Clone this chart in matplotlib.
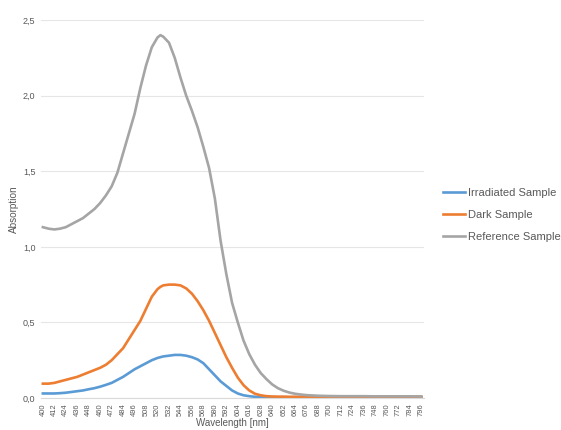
import matplotlib
matplotlib.use('Agg')

import matplotlib.pyplot as plt
import numpy as np

# wavelengths (nm), 6 nm steps over the band (+ a few around the peak), 12 nm in the flat tail
wavelength = (list(range(400, 520, 6)) + [520, 523, 526] + list(range(532, 701, 6))
              + list(range(712, 797, 12)))

# values
reference = [1.13, 1.12, 1.115, 1.12, 1.13, 1.15, 1.17, 1.19, 1.22, 1.25,
             1.29, 1.34, 1.40, 1.49, 1.62, 1.75, 1.88, 2.05, 2.20, 2.32,
             2.385, 2.40, 2.39, 2.35, 2.25, 2.12, 2.00, 1.90, 1.79, 1.66, 1.52,
             1.32, 1.04, 0.82, 0.63, 0.50, 0.38, 0.29, 0.22, 0.165, 0.125,
             0.09, 0.065, 0.048, 0.036, 0.028, 0.023, 0.019, 0.017, 0.015, 0.014,
             0.013,
             0.012, 0.012, 0.012, 0.011, 0.011, 0.011, 0.011, 0.010]
dark = [0.095, 0.095, 0.10, 0.11, 0.12, 0.13, 0.14, 0.155, 0.17, 0.185,
        0.20, 0.22, 0.25, 0.29, 0.33, 0.39, 0.45, 0.51, 0.59, 0.67,
        0.72, 0.735, 0.745, 0.75, 0.75, 0.745, 0.725, 0.69, 0.64, 0.58, 0.51,
        0.43, 0.35, 0.27, 0.20, 0.135, 0.085, 0.05, 0.028, 0.018, 0.012,
        0.010, 0.009, 0.009, 0.008, 0.008, 0.008, 0.008, 0.008, 0.008, 0.008,
        0.008,
        0.008, 0.008, 0.008, 0.008, 0.008, 0.008, 0.008, 0.008]
irradiated = [0.03, 0.03, 0.03, 0.032, 0.035, 0.04, 0.045, 0.05, 0.058, 0.065,
              0.075, 0.087, 0.10, 0.12, 0.14, 0.165, 0.19, 0.21, 0.23, 0.25,
              0.265, 0.27, 0.275, 0.28, 0.285, 0.285, 0.28, 0.27, 0.255, 0.23, 0.19,
              0.15, 0.11, 0.08, 0.05, 0.03, 0.018, 0.012, 0.008, 0.006, 0.005,
              0.005, 0.005, 0.005, 0.005, 0.005, 0.005, 0.005, 0.005, 0.005, 0.005,
              0.005,
              0.005, 0.005, 0.005, 0.005, 0.005, 0.005, 0.005, 0.005]

xticks = list(range(400, 797, 12))
yticks = [0.0, 0.5, 1.0, 1.5, 2.0, 2.5]

plt.rcParams['font.family'] = ['Liberation Sans', 'DejaVu Sans']

fig = plt.figure(figsize=(5.61, 4.30), dpi=100)
ax = fig.add_axes([0.073, 0.0744, 0.683, 0.879])

ax.plot(wavelength, irradiated, color='#5B9BD5', lw=1.9, label='Irradiated Sample', solid_joinstyle='round')
ax.plot(wavelength, dark, color='#ED7D31', lw=1.9, label='Dark Sample', solid_joinstyle='round')
ax.plot(wavelength, reference, color='#A5A5A5', lw=1.9, label='Reference Sample', solid_joinstyle='round')

ax.set_xlim(398, 799)
ax.set_ylim(0, 2.5)
ax.set_yticks(yticks)
ax.set_yticklabels([f'{v:.1f}'.replace('.', ',') for v in yticks], fontsize=6.5, color='#595959')
ax.set_xticks(xticks)
ax.set_xticklabels([str(t) for t in xticks], rotation=90, fontsize=5.4, color='#595959')
ax.tick_params(axis='both', length=0, pad=4)

ax.grid(axis='y', color='#E6E6E6', lw=0.8)
ax.set_axisbelow(True)
for s in ['top', 'right', 'left']:
    ax.spines[s].set_visible(False)
ax.spines['bottom'].set_color('#D9D9D9')

ax.set_ylabel('Absorption', fontsize=7.2, color='#595959', labelpad=3)
fig.text(0.414, 0.017, 'Wavelength [nm]', fontsize=7, color='#595959', ha='center', va='center')

fig.legend(loc='center left', bbox_to_anchor=(0.772, 0.5), frameon=False, fontsize=8,
           handlelength=2.0, handletextpad=0.25, labelspacing=1.05, labelcolor='#595959')

fig.savefig('out.png', dpi=100)
